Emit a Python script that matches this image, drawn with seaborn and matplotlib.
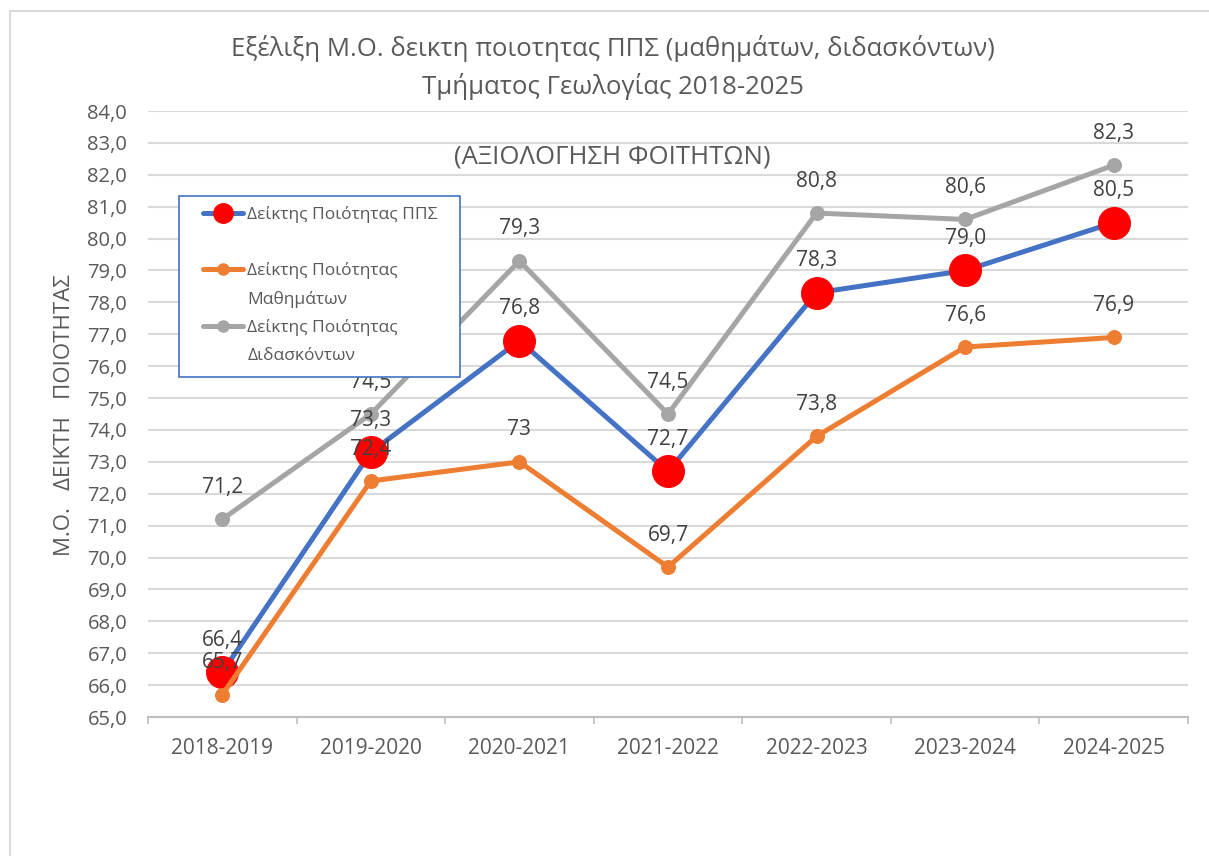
import pandas as pd
import matplotlib.pyplot as plt
import seaborn as sns
from matplotlib.lines import Line2D
from matplotlib.patches import Rectangle
from matplotlib.ticker import FixedLocator

# δεδομένα
years = ['2018-2019', '2019-2020', '2020-2021', '2021-2022', '2022-2023', '2023-2024', '2024-2025']
pps = [66.4, 73.3, 76.8, 72.7, 78.3, 79.0, 80.5]
mathimata = [65.7, 72.4, 73.0, 69.7, 73.8, 76.6, 76.9]
didaskontes = [71.2, 74.5, 79.3, 74.5, 80.8, 80.6, 82.3]

df = pd.DataFrame({'year': years, 'pps': pps, 'math': mathimata, 'did': didaskontes})

sns.set_theme(style='white')
plt.rcParams['font.family'] = ['Open Sans', 'DejaVu Sans']

blue, orange, grey = '#4472C4', '#ED7D31', '#A5A5A5'
txt = '#595959'

fig = plt.figure(figsize=(12.09, 8.56), dpi=100)
ax = fig.add_axes([148 / 1209, 1 - 717 / 856, 1040 / 1209, 606 / 856])

# γραμμές
sns.lineplot(data=df, x='year', y='pps', ax=ax, sort=False, color=blue, lw=3.6,
             marker='o', markersize=23, markerfacecolor='#FF0000', markeredgecolor='#FF0000', zorder=3)
sns.lineplot(data=df, x='year', y='math', ax=ax, sort=False, color=orange, lw=3.6,
             marker='o', markersize=10, markeredgecolor=orange, zorder=4)
sns.lineplot(data=df, x='year', y='did', ax=ax, sort=False, color=grey, lw=3.6,
             marker='o', markersize=10, markeredgecolor=grey, zorder=5)

# ετικέτες τιμών
for vals, fmt in [(pps, '{:.1f}'), (mathimata, '{:g}'), (didaskontes, '{:.1f}')]:
    for i, v in enumerate(vals):
        ax.annotate(fmt.format(v).replace('.', ','), (i, v), xytext=(0, 23),
                    textcoords='offset points', ha='center', va='center',
                    fontsize=15, color='#404040', zorder=6)

ax.set_xlim(-0.5, 6.5)
ax.set_ylim(65, 84)
ax.set_yticks(range(65, 85))
ax.set_yticklabels([f'{t},0' for t in range(65, 85)])
ax.grid(axis='y', color='#D9D9D9', lw=1.5)
ax.set_axisbelow(True)
for s in ['top', 'right', 'left']:
    ax.spines[s].set_visible(False)
ax.spines['bottom'].set_color('#BFBFBF')
ax.spines['bottom'].set_linewidth(1.5)
ax.xaxis.set_minor_locator(FixedLocator([i - 0.5 for i in range(8)]))
ax.tick_params(axis='x', which='major', length=0, pad=15, labelsize=15, labelcolor=txt)
ax.tick_params(axis='x', which='minor', length=5, width=1.2, color='#BFBFBF', bottom=True)
ax.tick_params(axis='y', length=0, pad=15, labelsize=14.5, labelcolor=txt)
ax.set_xlabel('')
ax.set_ylabel('')

# τίτλοι
fig.text(613 / 1209, 1 - 48 / 856, 'Εξέλιξη Μ.Ο. δεικτη ποιοτητας ΠΠΣ (μαθημάτων, διδασκόντων)',
         ha='center', va='center', fontsize=18.5, color=txt)
fig.text(613 / 1209, 1 - 86 / 856, 'Τμήματος Γεωλογίας 2018-2025',
         ha='center', va='center', fontsize=18.5, color=txt)
fig.text(612 / 1209, 1 - 157 / 856, '(ΑΞΙΟΛΟΓΗΣΗ ΦΟΙΤΗΤΩΝ)',
         ha='center', va='center', fontsize=18.5, color=txt)
fig.text(65 / 1209, 1 - 415 / 856, 'Μ.Ο.   ΔΕΙΚΤΗ   ΠΟΙΟΤΗΤΑΣ', rotation=90,
         ha='center', va='center', fontsize=16, color=txt)

# υπόμνημα: πλαίσιο και περιεχόμενο
fig.patches.append(Rectangle((179 / 1209, 1 - 377 / 856), 281 / 1209, 181 / 856,
                             transform=fig.transFigure, facecolor='white',
                             edgecolor=blue, lw=1.2, zorder=4))
empty = Line2D([], [], color='none')
handles = [
    Line2D([], [], color=blue, lw=3.6, marker='o', markersize=14, markerfacecolor='#FF0000', markeredgecolor='#FF0000'),
    empty,
    Line2D([], [], color=orange, lw=3.6, marker='o', markersize=8),
    empty,
    Line2D([], [], color=grey, lw=3.6, marker='o', markersize=8),
    empty,
]
labels = ['Δείκτης Ποιότητας ΠΠΣ', ' ', 'Δείκτης Ποιότητας', 'Μαθημάτων', 'Δείκτης Ποιότητας', 'Διδασκόντων']
leg = fig.legend(handles, labels, loc='upper left', bbox_to_anchor=(203 / 1209, 1 - 206 / 856),
                 borderaxespad=0, borderpad=0, fontsize=12.5, labelcolor=txt, handlelength=2.3,
                 handletextpad=0.25, labelspacing=0.66, frameon=False)
leg.set_zorder(5)

# πλαίσιο γραφήματος
fig.patches.append(Rectangle((9.5 / 1209, -0.1), 1.2, 1.1 - 11.5 / 856, transform=fig.transFigure,
                             fill=False, edgecolor='#D9D9D9', lw=1.5, zorder=0))

plt.savefig('out.png', dpi=100)
